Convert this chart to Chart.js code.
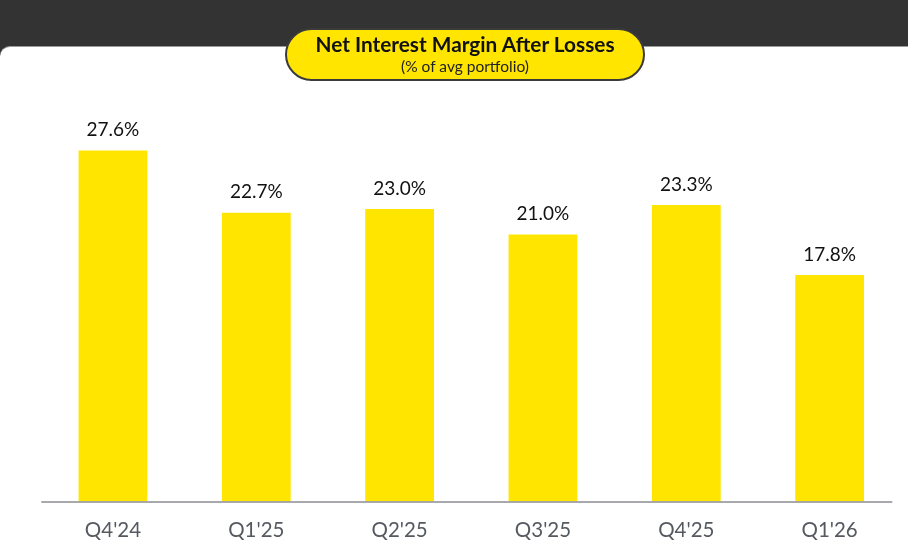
<!DOCTYPE html>
<html>
<head>
<meta charset="utf-8">
<script src="https://cdn.jsdelivr.net/npm/chart.js@4.4.0/dist/chart.umd.min.js"></script>
<style>
  html, body { margin: 0; padding: 0; }
  body { width: 908px; height: 550px; background: #333333; position: relative; overflow: hidden; font-family: "Lato", "Liberation Sans", sans-serif; }
  #panel { position: absolute; left: 0; top: 46px; width: 908px; height: 504px; background: #ffffff; border-top-left-radius: 10px; border-top: 1px solid #9a9a9a; box-sizing: border-box; }
  #pill { position: absolute; left: 285px; top: 28px; width: 360px; height: 53px; box-sizing: border-box; background: #FFE500; border: 2px solid #3a3a3a; border-radius: 27px; text-align: center; z-index: 2; }
  #pill .t { font-weight: 700; font-size: 20.8px; color: #111; margin-top: 2px; line-height: 24px; }
  #pill .s { font-size: 15.5px; color: #222; line-height: 18px; margin-top: 1px; }
  #c { position: absolute; left: 0; top: 0; z-index: 1; }
</style>
</head>
<body>
<div id="panel"></div>
<div id="pill"><div class="t">Net Interest Margin After Losses</div><div class="s">(% of avg portfolio)</div></div>
<canvas id="c" width="908" height="550"></canvas>
<script>
const categories = ["Q4'24", "Q1'25", "Q2'25", "Q3'25", "Q4'25", "Q1'26"];
const marginValues = [27.6, 22.7, 23.0, 21.0, 23.3, 17.8];
const valueLabels = ["27.6%", "22.7%", "23.0%", "21.0%", "23.3%", "17.8%"];

const labelPlugin = {
  id: 'valueLabels',
  afterDatasetsDraw(chart) {
    const ctx = chart.ctx;
    const meta = chart.getDatasetMeta(0);
    ctx.save();
    ctx.font = '19px "Lato", "Liberation Sans", sans-serif';
    ctx.fillStyle = '#111111';
    ctx.textAlign = 'center';
    ctx.textBaseline = 'bottom';
    meta.data.forEach((bar, i) => {
      ctx.fillText(valueLabels[i], bar.x, bar.y - 11);
    });
    ctx.restore();
  }
};

const baselinePlugin = {
  id: 'baseline',
  afterDatasetsDraw(chart) {
    const ctx = chart.ctx;
    const a = chart.chartArea;
    ctx.save();
    ctx.strokeStyle = '#8a8d91';
    ctx.lineWidth = 1.5;
    ctx.beginPath();
    ctx.moveTo(a.left, a.bottom + 0.5);
    ctx.lineTo(a.right - 9, a.bottom + 0.5);
    ctx.stroke();
    ctx.restore();
  }
};

new Chart(document.getElementById('c'), {
  type: 'bar',
  data: {
    labels: categories,
    datasets: [{
      data: marginValues,
      backgroundColor: '#FFE500',
      borderWidth: 0,
      barPercentage: 0.48,
      categoryPercentage: 1.0
    }]
  },
  options: {
    responsive: false,
    animation: false,
    events: [],
    layout: { padding: { left: 41.3, right: 6.7, top: 119.9, bottom: 0 } },
    plugins: { legend: { display: false }, tooltip: { enabled: false }, title: { display: false } },
    scales: {
      x: {
        grid: { display: false, drawTicks: false },
        border: { display: false },
        ticks: { color: '#555a60', font: { size: 20.5, family: '"Lato", "Liberation Sans", sans-serif' }, padding: 17 },
        afterFit(scale) { scale.height = 48.5; }
      },
      y: {
        display: false,
        min: 0,
        max: 30
      }
    }
  },
  plugins: [labelPlugin, baselinePlugin]
});
</script>
</body>
</html>
